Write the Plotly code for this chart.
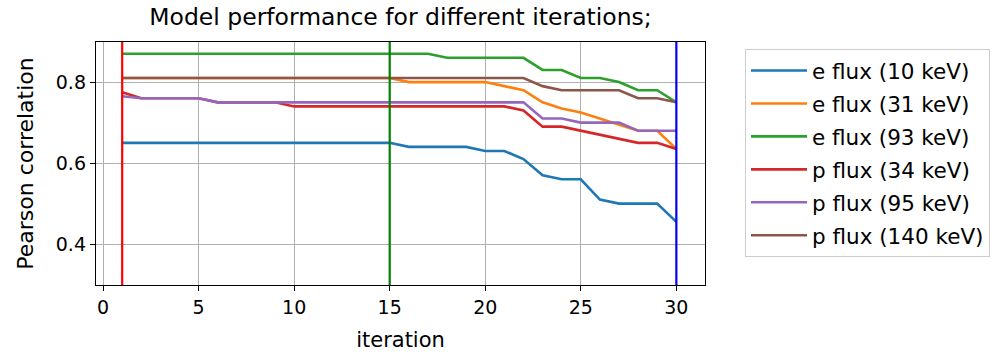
import plotly.graph_objects as go

iterations = list(range(1, 31))

e_flux_10 = [0.65]*15 + [0.64]*4 + [0.63, 0.63, 0.61, 0.57, 0.56, 0.56, 0.51, 0.50, 0.50, 0.50, 0.455]
e_flux_31 = [0.81]*15 + [0.80]*5 + [0.79, 0.78, 0.75, 0.735, 0.725, 0.71, 0.695, 0.68, 0.68, 0.635]
e_flux_93 = [0.87]*17 + [0.86]*5 + [0.83, 0.83, 0.81, 0.81, 0.80, 0.78, 0.78, 0.75]
p_flux_34 = [0.775] + [0.76]*4 + [0.75]*4 + [0.74]*12 + [0.73, 0.69, 0.69, 0.68, 0.67, 0.66, 0.65, 0.65, 0.635]
p_flux_95 = [0.765] + [0.76]*4 + [0.75]*17 + [0.71, 0.71, 0.70, 0.70, 0.70, 0.68, 0.68, 0.68]
p_flux_140 = [0.81]*22 + [0.79, 0.78, 0.78, 0.78, 0.78, 0.76, 0.76, 0.75]

series_names = ["e flux (10 keV)", "e flux (31 keV)", "e flux (93 keV)",
                "p flux (34 keV)", "p flux (95 keV)", "p flux (140 keV)"]
series_values = [e_flux_10, e_flux_31, e_flux_93, p_flux_34, p_flux_95, p_flux_140]
series_colors = ["#1f77b4", "#ff7f0e", "#2ca02c", "#d62728", "#9467bd", "#8c564b"]

vline_x = [1, 15, 30]
vline_colors = ["#ff0000", "#008000", "#0000ff"]

x_ticks = [0, 5, 10, 15, 20, 25, 30]
y_ticks = [0.4, 0.6, 0.8]

FONT = "DejaVu Sans"

fig = go.Figure()
for i, (name, vals, col) in enumerate(zip(series_names, series_values, series_colors)):
    fig.add_trace(go.Scatter(x=iterations, y=vals, mode="lines", name=name,
                             legendgroup=f"g{i}",
                             line=dict(color=col, width=2.6)))

for vx, vc in zip(vline_x, vline_colors):
    fig.add_vline(x=vx, line_color=vc, line_width=2.2, layer="above")

fig.update_layout(
    width=998, height=354,
    margin=dict(l=96, r=293, t=42, b=69, autoexpand=False),
    paper_bgcolor="white", plot_bgcolor="white",
    font=dict(family=FONT, size=19, color="black"),
    title=dict(text="Model performance for different iterations;",
               x=0.5, xref="paper", xanchor="center",
               y=1 - 17/354, yanchor="middle",
               font=dict(family=FONT, size=23.5, color="black")),
    legend=dict(x=(745-96)/609, xanchor="left", y=(285-49)/243, yanchor="top",
                bordercolor="#cccccc", borderwidth=1,
                font=dict(family=FONT, size=21.5, color="black"),
                itemwidth=56, tracegroupgap=2, traceorder="grouped"),
    showlegend=True,
)
fig.update_xaxes(range=[-0.37, 31.5], tickvals=x_ticks, automargin=False,
                 showgrid=True, gridcolor="#b0b0b0", gridwidth=1,
                 showline=True, linecolor="black", linewidth=1.4, mirror=True,
                 ticks="outside", ticklen=5, tickcolor="black",
                 zeroline=False,
                 title=dict(text="iteration", standoff=15,
                            font=dict(family=FONT, size=21)))
fig.update_yaxes(range=[0.299, 0.899], tickvals=y_ticks, ticktext=["0.4", "0.6", "0.8"],
                 automargin=False,
                 showgrid=True, gridcolor="#b0b0b0", gridwidth=1,
                 showline=True, linecolor="black", linewidth=1.4, mirror=True,
                 ticks="outside", ticklen=5, tickcolor="black",
                 zeroline=False,
                 title=dict(text="Pearson correlation", standoff=16,
                            font=dict(family=FONT, size=22)))

fig.write_html("out.html")
